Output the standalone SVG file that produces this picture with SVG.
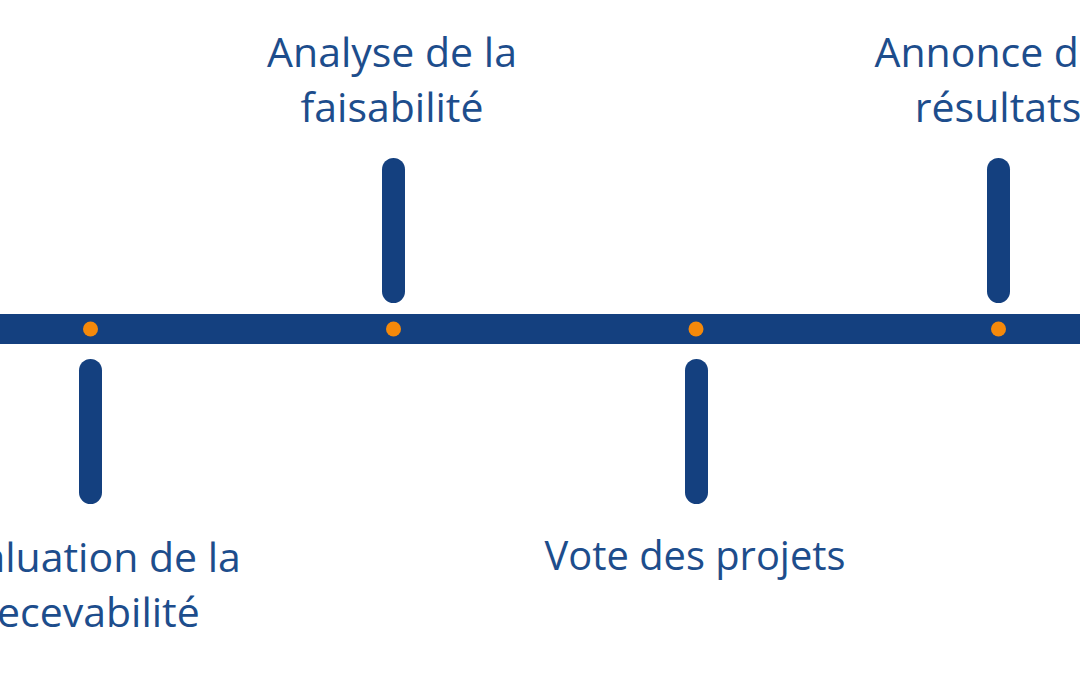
<svg xmlns="http://www.w3.org/2000/svg" width="1080" height="675" viewBox="0 0 1080 675">
<style>
.lbl{font-family:"Open Sans","Noto Sans","Liberation Sans",sans-serif;font-size:41px;fill:#1d4d8c;text-anchor:middle}
.tick{fill:#14407f}
.dot{fill:#f5890a}
</style>
<rect width="1080" height="675" fill="#ffffff"/>
<g id="connectors">
<rect class="tick" x="0" y="314" width="1080" height="30"/>
</g>
<g id="node-evaluation">
<rect class="tick" x="79" y="359" width="23" height="145" rx="11.5"/>
<circle class="dot" cx="90.5" cy="329" r="7.5"/>
<text class="lbl" x="90" y="572">Évaluation de la</text>
<text class="lbl" x="90" y="627">recevabilité</text>
</g>
<g id="node-analyse">
<rect class="tick" x="382" y="158" width="23" height="145" rx="11.5"/>
<circle class="dot" cx="393.5" cy="329" r="7.5"/>
<text class="lbl" x="392" y="67">Analyse de la</text>
<text class="lbl" x="392" y="122">faisabilité</text>
</g>
<g id="node-vote">
<rect class="tick" x="685" y="359" width="23" height="145" rx="11.5"/>
<circle class="dot" cx="696" cy="329" r="7.5"/>
<text class="lbl" x="695" y="570" textLength="301" lengthAdjust="spacingAndGlyphs">Vote des projets</text>
</g>
<g id="node-annonce">
<rect class="tick" x="987" y="158" width="23" height="145" rx="11.5"/>
<circle class="dot" cx="998.5" cy="329" r="7.5"/>
<text class="lbl" x="998" y="67">Annonce des</text>
<text class="lbl" x="998" y="122">résultats</text>
</g>
</svg>
